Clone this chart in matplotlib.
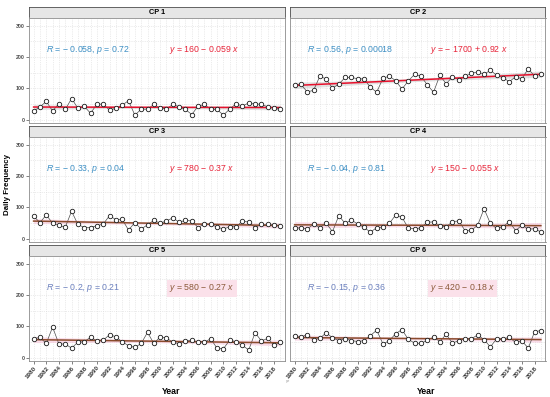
import numpy as np
import matplotlib
matplotlib.use('Agg')
import matplotlib.pyplot as plt
from matplotlib.ticker import MultipleLocator

plt.rcParams['font.family'] = ['Liberation Sans', 'DejaVu Sans']
plt.rcParams['mathtext.fontset'] = 'custom'
plt.rcParams['mathtext.rm'] = 'Liberation Sans'
plt.rcParams['mathtext.it'] = 'Liberation Sans:italic'

years = list(range(1980, 2020))
panel_names = ['CP 1', 'CP 2', 'CP 3', 'CP 4', 'CP 5', 'CP 6']

cp1 = [28, 41, 59, 28, 52, 33, 68, 37, 43, 21, 50, 50, 31, 37, 47, 61, 15, 34, 34, 49,
       37, 35, 49, 42, 33, 17, 44, 49, 33, 33, 15, 35, 51, 44, 54, 50, 50, 41, 38, 33]
cp2 = [112, 113, 89, 94, 139, 130, 101, 114, 135, 135, 131, 130, 104, 88, 133, 139, 125, 98, 124, 145,
       139, 112, 88, 142, 115, 137, 128, 139, 148, 153, 145, 158, 142, 134, 122, 137, 131, 163, 139, 147]
cp3 = [72, 52, 76, 50, 43, 37, 88, 46, 36, 36, 42, 47, 74, 61, 62, 28, 52, 31, 45, 59,
       50, 57, 67, 53, 59, 57, 36, 48, 46, 38, 31, 39, 38, 57, 53, 36, 46, 46, 44, 40]
cp4 = [34, 35, 32, 46, 36, 50, 23, 74, 49, 60, 47, 37, 21, 36, 37, 49, 76, 69, 34, 32,
       35, 53, 54, 42, 38, 55, 57, 26, 27, 44, 96, 49, 33, 39, 55, 26, 44, 31, 32, 22]
cp5 = [61, 65, 46, 98, 44, 44, 31, 50, 51, 66, 54, 56, 74, 67, 51, 39, 33, 46, 81, 46,
       67, 63, 50, 45, 54, 56, 51, 50, 61, 30, 29, 57, 51, 40, 25, 80, 54, 62, 40, 49]
cp6 = [69, 66, 74, 58, 62, 80, 64, 55, 61, 55, 52, 55, 71, 88, 44, 55, 77, 90, 59, 47,
       46, 56, 66, 52, 75, 47, 55, 61, 61, 73, 58, 35, 61, 61, 65, 49, 54, 31, 83, 87]
series = [cp1, cp2, cp3, cp4, cp5, cp6]

r_labels = [r'$\mathit{R}$ = − 0.058, $\mathit{p}$ = 0.72',
            r'$\mathit{R}$ = 0.56, $\mathit{p}$ = 0.00018',
            r'$\mathit{R}$ = − 0.33, $\mathit{p}$ = 0.04',
            r'$\mathit{R}$ = − 0.04, $\mathit{p}$ = 0.81',
            r'$\mathit{R}$ = − 0.2, $\mathit{p}$ = 0.21',
            r'$\mathit{R}$ = − 0.15, $\mathit{p}$ = 0.36']
eq_labels = [r'$\mathit{y}$ = 160 − 0.059 $\mathit{x}$',
             r'$\mathit{y}$ = − 1700 + 0.92 $\mathit{x}$',
             r'$\mathit{y}$ = 780 − 0.37 $\mathit{x}$',
             r'$\mathit{y}$ = 150 − 0.055 $\mathit{x}$',
             r'$\mathit{y}$ = 580 − 0.27 $\mathit{x}$',
             r'$\mathit{y}$ = 420 − 0.18 $\mathit{x}$']

W, H = 550, 397
fig = plt.figure(figsize=(W / 100, H / 100), dpi=100)


def px_rect(x0, y0, x1, y1):
    # pixel box (top-left origin) -> figure fraction
    return [x0 / W, 1 - y1 / H, (x1 - x0) / W, (y1 - y0) / H]


col_x = [(29, 285), (290, 545.5)]
row_y = [(7, 17.5, 123), (126, 136.5, 242), (245, 255.5, 361)]

for i, vals in enumerate(series):
    r, c = divmod(i, 2)
    x0, x1 = col_x[c]
    s0, a0, a1 = row_y[r]

    # strip
    sax = fig.add_axes(px_rect(x0, s0, x1, a0))
    sax.set_facecolor('#e6e6e6')
    sax.set_xticks([])
    sax.set_yticks([])
    for sp in sax.spines.values():
        sp.set_color('#4d4d4d')
        sp.set_linewidth(0.6)
    sax.text(0.5, 0.5, panel_names[i], ha='center', va='center',
             fontsize=5.3, fontweight='bold', transform=sax.transAxes)

    ax = fig.add_axes(px_rect(x0, a0, x1, a1))
    ax.set_xlim(1979.27, 2019.73)
    ax.set_ylim(-10, 326)
    ax.xaxis.set_major_locator(MultipleLocator(2))
    ax.xaxis.set_minor_locator(MultipleLocator(1))
    ax.yaxis.set_major_locator(MultipleLocator(100))
    ax.yaxis.set_minor_locator(MultipleLocator(50))
    ax.grid(True, which='both', color='#d9d9d9', linestyle=':', linewidth=0.5)
    ax.set_axisbelow(True)
    for sp in ax.spines.values():
        sp.set_color('#8c8c8c')
        sp.set_linewidth(0.6)

    x = np.array(years, dtype=float)
    y = np.array(vals, dtype=float)
    # linear fit with 95% confidence band
    b, a = np.polyfit(x, y, 1)
    xs = np.linspace(x.min(), x.max(), 100)
    fit = a + b * xs
    resid = y - (a + b * x)
    s = np.sqrt(np.sum(resid ** 2) / (len(x) - 2))
    se = s * np.sqrt(1 / len(x) + (xs - x.mean()) ** 2 / np.sum((x - x.mean()) ** 2))
    tval = 2.024
    if i < 2:
        line_c, band_c, band_a = '#e8112d', '#bdbdbd', 0.45
        r_c, eq_c, eq_box = '#3d8fc4', '#e8253a', None
    else:
        line_c, band_c, band_a = '#8a4b2c', '#f7c6db', 0.6
        if i < 4:
            r_c, eq_c, eq_box = '#3d8fc4', '#e8253a', None
        else:
            r_c, eq_c, eq_box = '#6a7fbd', '#8b5a3a', '#fbe1ea'
    ax.fill_between(xs, fit - tval * se, fit + tval * se, color=band_c,
                    alpha=band_a, linewidth=0, zorder=2)
    ax.plot(x, y, color='#4d4d4d', lw=0.5, zorder=3)
    ax.plot(xs, fit, color=line_c, lw=1.1, zorder=4)
    ax.plot(x, y, 'o', ms=3.2, mfc='white', mec='#1a1a1a', mew=0.6, zorder=5)

    ax.text(1982, 221, r_labels[i], color=r_c, fontsize=6.3, ha='left', va='center')
    t = ax.text(2001.4, 221, eq_labels[i], color=eq_c, fontsize=6.3, ha='left', va='center')
    if eq_box:
        t.set_bbox(dict(facecolor=eq_box, edgecolor='none', pad=1.5))

    ax.tick_params(which='both', length=0)
    if c == 0:
        ax.tick_params(axis='y', which='major', length=2, width=0.5, color='#4d4d4d',
                       labelsize=3.8, labelcolor='#4d4d4d', pad=1)
        for lab in ax.get_yticklabels():
            lab.set_fontweight('bold')
    else:
        ax.set_yticklabels([])
    if r == 2:
        ax.set_xticks(range(1980, 2019, 2))
        ax.tick_params(axis='x', which='major', length=2, width=0.5, color='#4d4d4d',
                       labelsize=4.5, labelcolor='#333333', pad=1)
        for lab in ax.get_xticklabels():
            lab.set_rotation(50)
            lab.set_ha('right')
            lab.set_va('top')
            lab.set_rotation_mode('anchor')
            lab.set_fontweight('bold')
    else:
        ax.set_xticklabels([])

fig.text(170.7 / W, 1 - 391 / H, 'Year', ha='center', va='center',
         fontsize=6.3, fontweight='bold')
fig.text(426 / W, 1 - 391 / H, 'Year', ha='center', va='center',
         fontsize=6.3, fontweight='bold')
fig.text(8 / W, 1 - 185 / H, 'Daily Frequency', ha='center', va='center',
         rotation=90, fontsize=5.7, fontweight='bold')
fig.text(288 / W, 1 - 381 / H, 'ye', ha='center', va='center',
         fontsize=3, color='#999999')

fig.savefig('out.png', dpi=100)
